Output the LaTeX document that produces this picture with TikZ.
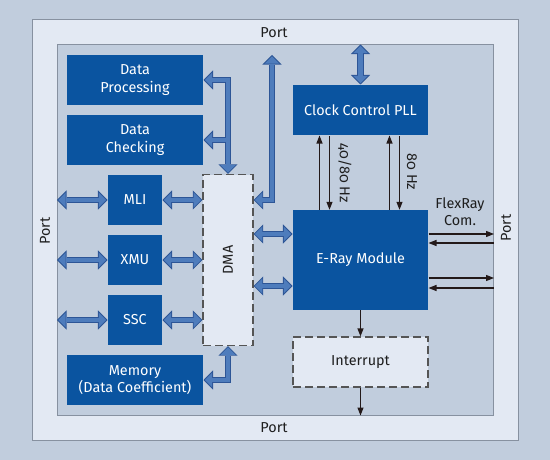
\documentclass[tikz,border=0pt]{standalone}
\usepackage{fontspec}
\setmainfont{Fira Sans}[Numbers=OldStyle]
\usetikzlibrary{arrows.meta,calc}

\definecolor{bgcol}{RGB}{193,205,221}
\definecolor{portcol}{RGB}{227,233,243}
\definecolor{framecol}{RGB}{135,145,160}
\definecolor{blockcol}{RGB}{10,84,160}
\definecolor{busfill}{RGB}{78,124,188}
\definecolor{busedge}{RGB}{45,85,150}
\definecolor{sigcol}{RGB}{35,25,25}
\definecolor{dashcol}{RGB}{85,85,85}
\definecolor{txtcol}{RGB}{30,30,30}

\tikzset{every picture/.style={line width=0.75pt}}
\tikzset{
  blockbox/.style={fill=blockcol, draw=none, text=white, align=center, inner sep=0pt, font=\fontsize{10.8}{13.3}\selectfont},
  dashbox/.style={fill=portcol, draw=dashcol, dash pattern=on 6pt off 3pt, line width=0.9pt, text=txtcol, inner sep=0pt, font=\fontsize{10.8}{13.3}\selectfont},
  portlabel/.style={text=txtcol, inner sep=0pt, align=center, font=\fontsize{10.8}{12.9}\selectfont},
  busout/.style={draw=busedge, line width=4.6pt, line join=miter, >={Triangle[width=14.5pt,length=7.2pt,line width=0pt]}},
  busin/.style={draw=busfill, line width=3.2pt, line join=miter, shorten <=1pt, shorten >=1pt, >={Triangle[width=11pt,length=5.5pt,line width=0pt]}},
  sig/.style={draw=sigcol, line width=0.9pt, >={Triangle[width=4.5pt,length=6pt]}}
}

\begin{document}
\begin{tikzpicture}[x=0.75pt,y=0.75pt,yscale=-1,xscale=1]
%set diagram size: 550 x 460
\fill[bgcol] (0,0) rectangle (550,460);

%Shape: Rectangle [port frame]
\node[draw=framecol, fill=portcol, minimum width=364.35pt, minimum height=315.4pt, inner sep=0pt] (outer) at (275.5,229.75) {};
%Shape: Rectangle [chip area]
\node[draw=framecol, fill=bgcol, minimum width=327pt, minimum height=277.5pt, inner sep=0pt] (inner) at (275.5,230) {};

% Text Node
\node[portlabel] (ptop) at (274,33) {Port};
% Text Node
\node[portlabel] (pbot) at (274,428) {Port};
% Text Node
\node[portlabel, rotate=90] (pleft) at (45,231) {Port};
% Text Node
\node[portlabel, rotate=90] (pright) at (506,228) {Port};

%Shape: Blocks
\node[blockbox, minimum width=102pt, minimum height=37.5pt] (dp) at (135,80) {Data\\Processing};
\node[blockbox, minimum width=102pt, minimum height=37.5pt] (dc) at (135,140) {Data\\Checking};
\node[blockbox, minimum width=40.5pt, minimum height=37.5pt] (mli) at (135,200) {MLI};
\node[blockbox, minimum width=40.5pt, minimum height=37.5pt] (xmu) at (135,260) {XMU};
\node[blockbox, minimum width=40.5pt, minimum height=37.5pt] (ssc) at (135,320) {SSC};
\node[blockbox, minimum width=102pt, minimum height=37.5pt] (mem) at (135,380) {Memory\\(Data Coefficient)};
\node[blockbox, minimum width=101.25pt, minimum height=37.5pt] (clk) at (360.5,110) {Clock Control PLL};
\node[blockbox, minimum width=101.25pt, minimum height=74.6pt] (era) at (360.5,260) {E-Ray Module};

%Shape: Dashed boxes
\node[dashbox, minimum width=37.5pt, minimum height=128.25pt] (dma) at (228,260) {};
\node[portlabel, rotate=90] (dmalabel) at (dma) {DMA};
\node[dashbox, minimum width=101.25pt, minimum height=37.5pt] (intr) at (360.5,362) {Interrupt};

\coordinate (ext) at (272,55);

%Bus arrows: outline first, then fill
\foreach \pass in {busout,busin}{
  \draw[\pass,<->] (inner.west |- mli.west) -- (mli.west);
  \draw[\pass,<->] (inner.west |- xmu.west) -- (xmu.west);
  \draw[\pass,<->] (inner.west |- ssc.west) -- (ssc.west);
  \draw[\pass,<->] (mli.east) -- (dma.west |- mli.east);
  \draw[\pass,<->] (xmu.east) -- (dma.west |- xmu.east);
  \draw[\pass,<->] (ssc.east) -- (dma.west |- ssc.east);
  \draw[\pass,<->] (dp.east) -| (dma.north);
  \draw[\pass,<-] (dc.east) -- (dc.east -| dma.north);
  \draw[\pass,<->] (dma.east |- mli.east) -| (ext);
  \draw[\pass,<->] ($(dma.east)+(0,-26)$) -- ($(era.west)+(0,-26)$);
  \draw[\pass,<->] ($(dma.east)+(0,26)$) -- ($(era.west)+(0,26)$);
  \draw[\pass,<->] (clk.north) -- (clk.north |- inner.north);
  \draw[\pass,<->] (dma.south) |- (mem.east);
}

%Clock lines
\draw[sig,->] ($(era.north west)+(27,0)$) -- ($(clk.south west)+(27,0)$);
\draw[sig,<-] ($(era.north west)+(37,0)$) -- ($(clk.south west)+(37,0)$);
\draw[sig,->] ($(era.north west)+(97,0)$) -- ($(clk.south west)+(97,0)$);
\draw[sig,<-] ($(era.north west)+(107,0)$) -- ($(clk.south west)+(107,0)$);
% Text Node
\node[portlabel, rotate=-90] (hza) at (345,173) {40/80 Hz};
% Text Node
\node[portlabel, rotate=-90] (hzb) at (412,172) {80 Hz};

%FlexRay lines
\draw[sig,->] ($(era.east)+(0,-26)$) -- ($(inner.east |- era.east)+(0,-26)$);
\draw[sig,<-] ($(era.east)+(0,-17)$) -- ($(inner.east |- era.east)+(0,-17)$);
\draw[sig,->] ($(era.east)+(0,18)$) -- ($(inner.east |- era.east)+(0,18)$);
\draw[sig,<-] ($(era.east)+(0,28)$) -- ($(inner.east |- era.east)+(0,28)$);
% Text Node
\node[portlabel] (flex) at (460,212) {FlexRay\\Com.};

%Interrupt lines
\draw[sig,->] (era.south) -- (intr.north);
\draw[sig,->] (intr.south) -- (intr.south |- inner.south);

\end{tikzpicture}
\end{document}
